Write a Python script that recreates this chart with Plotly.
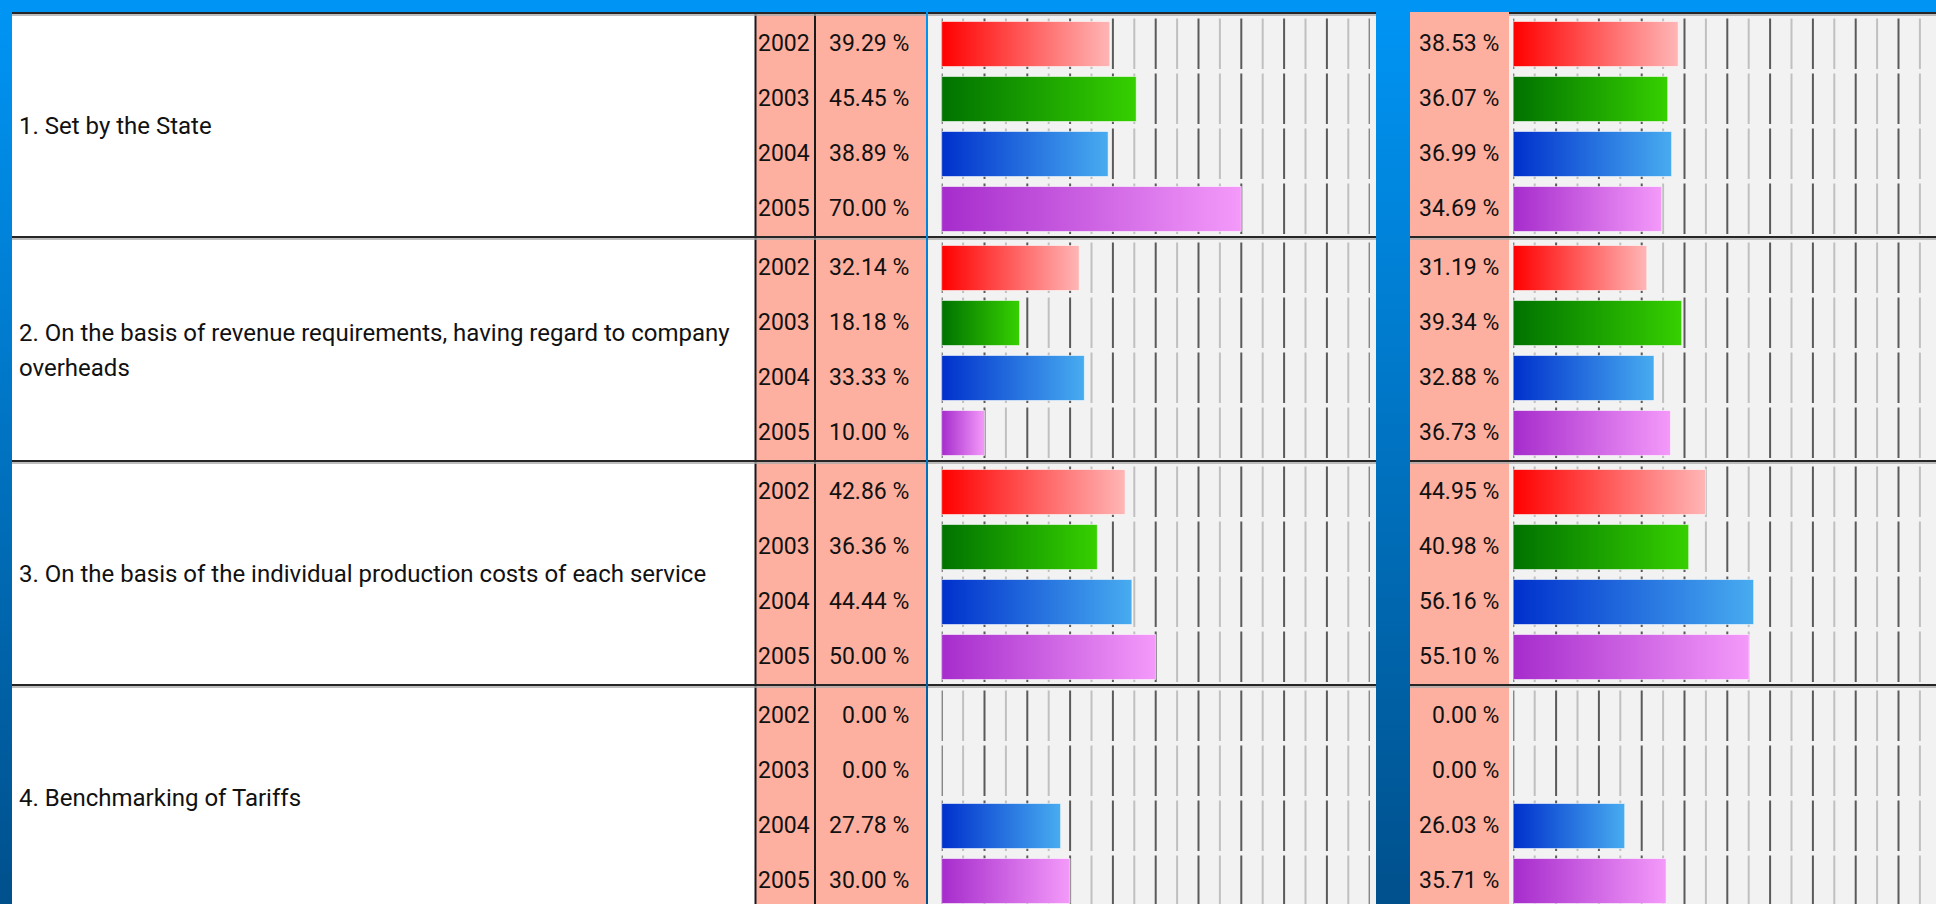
import plotly.graph_objects as go

# ---------------- data ----------------
categories = [
    "1. Set by the State",
    "2. On the basis of revenue requirements, having regard to company<br>overheads",
    "3. On the basis of the individual production costs of each service",
    "4. Benchmarking of Tariffs",
]
years = ["2002", "2003", "2004", "2005"]

# left table (per year, one value per category)
left_2002 = [39.29, 32.14, 42.86, 0.00]
left_2003 = [45.45, 18.18, 36.36, 0.00]
left_2004 = [38.89, 33.33, 44.44, 27.78]
left_2005 = [70.00, 10.00, 50.00, 30.00]

# right table (per year, one value per category)
right_2002 = [38.53, 31.19, 44.95, 0.00]
right_2003 = [36.07, 39.34, 40.98, 0.00]
right_2004 = [36.99, 32.88, 56.16, 26.03]
right_2005 = [34.69, 36.73, 55.10, 35.71]

grid_ticks = list(range(0, 101, 5))

left_series = [left_2002, left_2003, left_2004, left_2005]
right_series = [right_2002, right_2003, right_2004, right_2005]

# ---------------- styles / layout constants ----------------
year_gradients = [
    ["#ff0000", "#ffb6b6"],
    ["#007200", "#36d000"],
    ["#0030cc", "#48acf0"],
    ["#a62ccc", "#f49afa"],
]
W, H = 1936, 904
TOP, GROUP_H, SEP, ROW_H = 12, 224, 4, 55
PX_PER_PCT = 4.28
L_ORIGIN, R_ORIGIN = 941.7, 1513.3
FONT = "Roboto, Liberation Sans, sans-serif"
PINK = "#fdb0a0"
CELL_BG = "#f2f2f2"
LABEL_LINE_GAP = 35


def row_top(g, r):
    return TOP + g * GROUP_H + SEP + r * ROW_H


fig = go.Figure()

# background gradient (canvas axes in pixels)
fig.add_trace(go.Scatter(
    x=[0, W, W, 0, 0], y=[0, 0, H, H, 0], mode="lines", line=dict(width=0),
    fill="toself", fillcolor="#0074c8",
    fillgradient=dict(type="vertical", colorscale=[[0, "#00508c"], [1, "#0095f5"]]),
    hoverinfo="skip", showlegend=False, xaxis="x", yaxis="y"))


def cell(x0, x1, color):
    fig.add_trace(go.Scatter(
        x=[x0, x1, x1, x0, x0], y=[TOP, TOP, H, H, TOP], mode="lines",
        line=dict(width=0), fill="toself", fillcolor=color,
        hoverinfo="skip", showlegend=False, xaxis="x", yaxis="y"))


cell(12, 755, "#ffffff")
cell(755, 926, PINK)
cell(928, 1376, CELL_BG)
cell(1410, 1509, PINK)
cell(1509, W, CELL_BG)

# grid segments + bars for both panels
for xa, series in (("x2", left_series), ("x3", right_series)):
    for dark in (False, True):
        gx, gy = [], []
        for g in range(len(categories)):
            for r in range(len(years)):
                rt = row_top(g, r)
                for t in grid_ticks:
                    if (t % 10 == 0) == dark:
                        gx += [t, t, None]
                        gy += [rt + 2.5, rt + 53, None]
        fig.add_trace(go.Scatter(
            x=gx, y=gy, mode="lines",
            line=dict(color="#5a5a5a" if dark else "#c0c0c0", width=2),
            hoverinfo="skip", showlegend=False, xaxis=xa, yaxis="y"))
    for r, vals in enumerate(series):
        for g, v in enumerate(vals):
            if v <= 0:
                continue
            rt = row_top(g, r)
            y0, y1 = rt + 5.5, rt + 50.5
            fig.add_trace(go.Scatter(
                x=[0, v, v, 0, 0], y=[y0, y0, y1, y1, y0], mode="lines",
                line=dict(color="rgba(255,255,255,0.55)", width=1),
                fill="toself", fillcolor=year_gradients[r][0],
                fillgradient=dict(type="horizontal",
                                  colorscale=[[0, year_gradients[r][0]],
                                              [1, year_gradients[r][1]]]),
                hoverinfo="skip", showlegend=False, xaxis=xa, yaxis="y"))

annotations = []
num_font = dict(family=FONT, size=23, color="#111111")
label_font = dict(family=FONT, size=24, color="#111111")
for g, cat in enumerate(categories):
    gc = TOP + g * GROUP_H + SEP + 2 * ROW_H
    lines = cat.split("<br>")
    for i, line in enumerate(lines):
        ly = gc + (i - (len(lines) - 1) / 2) * LABEL_LINE_GAP
        annotations.append(dict(x=17, y=ly, xref="x", yref="y", text=line, showarrow=False,
                                xanchor="left", yanchor="middle", align="left",
                                font=label_font))
    for r, yr in enumerate(years):
        yc = row_top(g, r) + 27.5
        annotations.append(dict(x=756, y=yc, xref="x", yref="y", text=yr, showarrow=False,
                                xanchor="left", yanchor="middle", font=num_font))
        annotations.append(dict(x=911, y=yc, xref="x", yref="y",
                                text=f"{left_series[r][g]:.2f} %", showarrow=False,
                                xanchor="right", yanchor="middle", font=num_font))
        annotations.append(dict(x=1501, y=yc, xref="x", yref="y",
                                text=f"{right_series[r][g]:.2f} %", showarrow=False,
                                xanchor="right", yanchor="middle", font=num_font))

shapes = []
for xv in (755.5, 815):
    shapes.append(dict(type="line", xref="x", yref="y", x0=xv, x1=xv, y0=TOP, y1=H,
                       line=dict(color="#1a1a1a", width=2), layer="above"))
for g in range(len(categories)):
    yg = TOP + g * GROUP_H
    spans = [(12, 926), (928, 1376), (1509 if g == 0 else 1410, W)]
    for x0, x1 in spans:
        shapes.append(dict(type="line", xref="x", yref="y", x0=x0, x1=x1, y0=yg + 1, y1=yg + 1,
                           line=dict(color="#262626", width=2), layer="above"))
        shapes.append(dict(type="line", xref="x", yref="y", x0=x0, x1=x1, y0=yg + 3, y1=yg + 3,
                           line=dict(color="#a8a8a8", width=1.5), layer="above"))

hidden = dict(visible=False, showgrid=False, zeroline=False, fixedrange=True)
fig.update_layout(
    width=W, height=H, margin=dict(l=0, r=0, t=0, b=0),
    paper_bgcolor="#0074c8", plot_bgcolor="rgba(0,0,0,0)", showlegend=False,
    xaxis=dict(domain=[0, 1], range=[0, W], **hidden),
    yaxis=dict(domain=[0, 1], range=[H, 0], **hidden),
    xaxis2=dict(domain=[L_ORIGIN / W, (L_ORIGIN + 100 * PX_PER_PCT) / W], range=[0, 100],
                anchor="y", **hidden),
    xaxis3=dict(domain=[R_ORIGIN / W, 1], range=[0, (W - R_ORIGIN) / PX_PER_PCT],
                anchor="y", **hidden),
    annotations=annotations, shapes=shapes,
)

fig.write_html("out.html", config={"displayModeBar": False},
               post_script="document.body.style.margin='0';document.body.style.overflow='hidden';")
